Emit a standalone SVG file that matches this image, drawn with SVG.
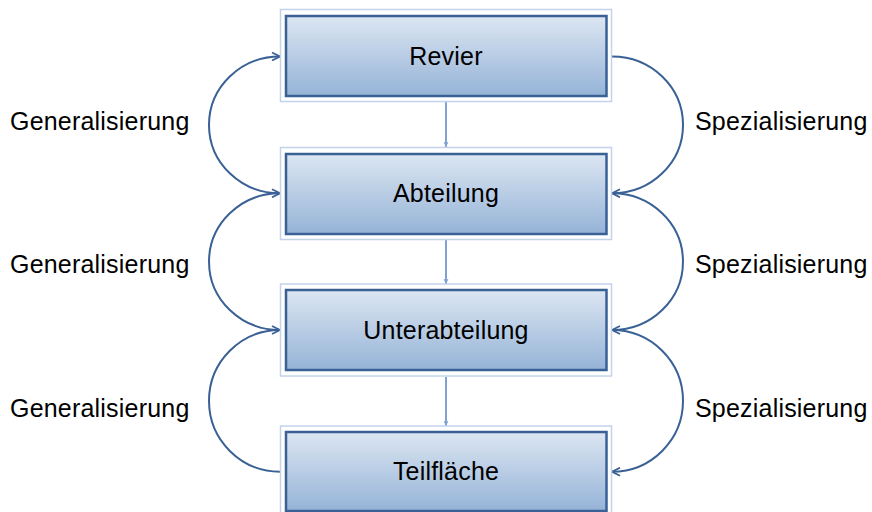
<svg xmlns="http://www.w3.org/2000/svg" width="872" height="512" viewBox="0 0 872 512">
<style>
.frame{fill:#ffffff;stroke:#c3d4ea;stroke-width:1.5}
.box{fill:url(#g);stroke:#3a6195;stroke-width:2.5}
.t{font-family:"Liberation Sans",Arial,sans-serif;font-size:25px;fill:#000;letter-spacing:0.2px}
.c{text-anchor:middle}
.curve{fill:none;stroke:#3a6195;stroke-width:2}
.vert{fill:none;stroke:#7fa2d2;stroke-width:2}
</style>
<defs>
<linearGradient id="g" x1="0" y1="0" x2="0" y2="1">
<stop offset="0" stop-color="#dce6f2"/>
<stop offset="1" stop-color="#95b3d7"/>
</linearGradient>
<marker id="ah" viewBox="0 0 10 10" refX="9" refY="5" markerWidth="10" markerHeight="10" markerUnits="userSpaceOnUse" orient="auto">
<path d="M1,1 L9,5 L1,9" fill="none" stroke="#3a6195" stroke-width="1.8"/>
</marker>
<marker id="av" viewBox="0 0 10 10" refX="9" refY="5" markerWidth="6" markerHeight="6" markerUnits="userSpaceOnUse" orient="auto">
<path d="M1,1 L9,5 L1,9 Z" fill="#7fa2d2"/>
</marker>
</defs>
<g id="connectors">
<path class="vert" d="M446,102 L446,147" marker-end="url(#av)"/>
<path class="vert" d="M446,240 L446,284" marker-end="url(#av)"/>
<path class="vert" d="M446,377 L446,426" marker-end="url(#av)"/>
<path class="curve" d="M280,193.3 A71,68.4 0 0 1 280,56.5" marker-end="url(#ah)"/>
<path class="curve" d="M280,330 A71,68.35 0 0 1 280,193.3" marker-end="url(#ah)"/>
<path class="curve" d="M280,471.7 A71,70.85 0 0 1 280,330" marker-end="url(#ah)"/>
<path class="curve" d="M612,56.5 A71,68.4 0 0 1 612,193.3" marker-end="url(#ah)"/>
<path class="curve" d="M612,193.3 A71,68.35 0 0 1 612,330" marker-end="url(#ah)"/>
<path class="curve" d="M612,330 A71,70.85 0 0 1 612,471.7" marker-end="url(#ah)"/>
</g>
<g id="labels">
<text class="t" x="10" y="130">Generalisierung</text>
<text class="t" x="10" y="273">Generalisierung</text>
<text class="t" x="10" y="417">Generalisierung</text>
<text class="t" x="695" y="130">Spezialisierung</text>
<text class="t" x="695" y="273">Spezialisierung</text>
<text class="t" x="695" y="417">Spezialisierung</text>
</g>
<g id="revier">
<rect class="frame" x="280.5" y="9.5" width="331" height="92"/>
<rect class="box" x="286" y="16" width="320.5" height="80"/>
<text class="t c" x="446" y="64.5">Revier</text>
</g>
<g id="abteilung">
<rect class="frame" x="280.5" y="147.5" width="331" height="92"/>
<rect class="box" x="286" y="154" width="320.5" height="80"/>
<text class="t c" x="446" y="202">Abteilung</text>
</g>
<g id="unterabteilung">
<rect class="frame" x="280.5" y="284" width="331" height="92"/>
<rect class="box" x="286" y="290" width="320.5" height="80"/>
<text class="t c" x="446" y="338.5">Unterabteilung</text>
</g>
<g id="teilflaeche">
<rect class="frame" x="280.5" y="426" width="331" height="92"/>
<rect class="box" x="286" y="432" width="320.5" height="79"/>
<text class="t c" x="446" y="480">Teilfläche</text>
</g>
</svg>
